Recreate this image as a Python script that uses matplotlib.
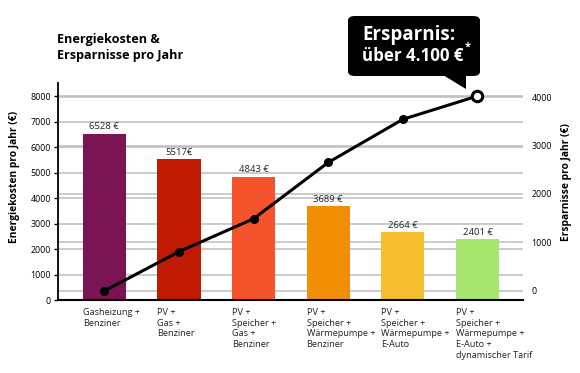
import matplotlib
matplotlib.use("Agg")
import matplotlib.pyplot as plt
from matplotlib.patches import FancyBboxPatch, Polygon
from matplotlib.transforms import blended_transform_factory

plt.rcParams['font.family'] = ['Open Sans', 'DejaVu Sans']

categories = ["Gasheizung +\nBenziner",
              "PV +\nGas +\nBenziner",
              "PV +\nSpeicher +\nGas +\nBenziner",
              "PV +\nSpeicher +\nWärmepumpe +\nBenziner",
              "PV +\nSpeicher +\nWärmepumpe +\nE-Auto",
              "PV +\nSpeicher +\nWärmepumpe +\nE-Auto +\ndynamischer Tarif"]
costs = [6528, 5517, 4843, 3689, 2664, 2401]
cost_labels = ["6528 €", "5517€", "4843 €", "3689 €", "2664 €", "2401 €"]
savings = [0, 810, 1490, 2650, 3540, 4020]
bar_colors = ["#7B1452", "#C01A02", "#F5532B", "#F28E05", "#F6BD2E", "#A7E66F"]
left_ticks = [0, 1000, 2000, 3000, 4000, 5000, 6000, 7000, 8000]
right_ticks = [0, 1000, 2000, 3000, 4000]

W, H = 580, 373
fig = plt.figure(figsize=(W/100, H/100), dpi=100)
ax = fig.add_axes([58/W, 1-300/H, 465/W, 217/H])
ax2 = ax.twinx()

x = list(range(len(costs)))
ax.set_xlim(-0.62, 5.61)
ax.set_ylim(0, 8510)
ax2.set_ylim(-186, 4289)

grid_c = "#bdbdbd"
for t in left_ticks:
    ax.axhline(t, color=grid_c, lw=1.1, zorder=0)
tr = blended_transform_factory(ax.transAxes, ax2.transData)
for t in right_ticks:
    ax.plot([0, 1], [t, t], transform=tr, color=grid_c, lw=1.1, zorder=0)

bw = 0.58
ax.bar(x, costs, width=bw, color=bar_colors, zorder=2)
for xi, c, lab in zip(x, costs, cost_labels):
    ax.text(xi, c + 80, lab, ha="center", va="bottom", fontsize=6.8, color="#222")

ax.set_zorder(1)
ax2.set_zorder(2)
ax.patch.set_visible(False)
ax2.patch.set_visible(False)

ax2.plot(x[:-1], savings[:-1], color="black", lw=2.2, marker="o", ms=5.5, zorder=5)
ax2.plot(x[-2:], savings[-2:], color="black", lw=2.2, zorder=5)
ax2.plot([x[-1]], [savings[-1]], marker="o", ms=7.5, mfc="white", mec="black", mew=2.2, zorder=6)

ax.set_yticks(left_ticks)
ax.set_yticklabels([str(t) for t in left_ticks], fontsize=6.4)
ax2.set_yticks(right_ticks)
ax2.set_yticklabels([str(t) for t in right_ticks], fontsize=6.4)
ax.tick_params(axis='y', length=3, width=1, pad=2)
ax2.tick_params(axis='y', length=0, pad=6)
ax.set_xticks([])

for s in ["top", "right"]:
    ax.spines[s].set_visible(False)
for s in ["top", "right", "left", "bottom"]:
    ax2.spines[s].set_visible(False)
ax.spines["left"].set_linewidth(1.3)
ax.spines["bottom"].set_linewidth(1.5)

for xi, lab in zip(x, categories):
    ax.text(xi - bw/2, -330, lab, ha="left", va="top", fontsize=6.6, color="#222", linespacing=1.22)

fig.text(15/W, 1-177/H, "Energiekosten pro Jahr (€)", rotation=90, ha="center", va="center",
         fontsize=7.4, fontweight="bold")
fig.text(567/W, 1-182/H, "Ersparnisse pro Jahr (€)", rotation=90, ha="center", va="center",
         fontsize=7.4, fontweight="bold")

fig.text(57/W, 1-47/H, "Energiekosten &\nErsparnisse pro Jahr", ha="left", va="center",
         fontsize=9.1, fontweight="bold", linespacing=1.3)

# callout
box = FancyBboxPatch((348/W, 1-76/H), (480-348)/W, 60/H,
                     boxstyle="round,pad=0,rounding_size=0.012",
                     transform=fig.transFigure, facecolor="black", edgecolor="none")
fig.patches.append(box)
tri = Polygon([(443/W, 1-75/H), (466/W, 1-75/H), (466/W, 1-89/H)], closed=True,
              transform=fig.transFigure, facecolor="black", edgecolor="none")
fig.patches.append(tri)
fig.text(362/W, 1-35/H, "Ersparnis:", ha="left", va="center", fontsize=13.5,
         fontweight="bold", color="white")
fig.text(362/W, 1-56/H, "über 4.100 €", ha="left", va="center", fontsize=12.2,
         fontweight="bold", color="white")
fig.text(465/W, 1-47/H, "*", ha="left", va="center", fontsize=8,
         fontweight="bold", color="white")

fig.savefig("out.png", dpi=100, facecolor="white")
